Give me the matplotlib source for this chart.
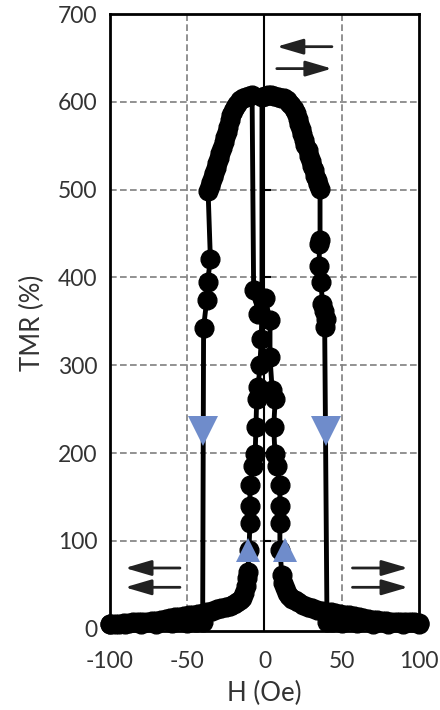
import numpy as np
import matplotlib
matplotlib.use('Agg')
import matplotlib.pyplot as plt
from matplotlib import markers

plt.rcParams['font.family'] = ['Lato', 'DejaVu Sans']

# sweep from -100 Oe to +100 Oe
h_up = [-100, -97, -94, -91, -88, -85, -82, -79, -76, -73, -70, -67, -64, -61,
        -58, -55, -52, -49, -46, -43, -40, -37, -34, -31, -28, -25, -22, -20,
        -18, -16, -14.5, -13, -12, -11.3,
        -10.7, -10, -9.4, -9.4, -9.4, -7.4, -6, -5.5, -5, -4, -3, -2, -1.6,
        -1.6, 0.5, 2.5, 4.5, 6.5, 8.5, 10.5, 12.5, 14.5, 16, 17.5, 19, 20.5,
        21.5, 22.5, 23.5, 24.5, 25.5, 26.5, 28, 29, 30, 31, 32, 33, 34, 35, 36,
        36, 35.5, 35.5, 36.8, 37.4, 38.7, 40, 39,
        40.5, 44, 50, 60, 70, 80, 90, 100]
tmr_up = [5, 5, 5, 6, 6, 7, 7, 8, 8, 9, 9, 10, 11, 12,
          13, 13, 14, 15, 16, 17, 18, 19, 20, 22, 23, 25, 26, 28,
          30, 32, 35, 40, 48, 58,
          64, 90, 120, 140, 163, 185, 199, 230, 262, 275, 300, 330, 377,
          606, 607, 608, 608, 607, 606, 605, 604, 602, 599, 596, 592, 587,
          581, 575, 569, 563, 557, 551, 545, 539, 533, 527, 522, 516, 511, 506, 501,
          443, 438, 413, 395, 370, 362, 353, 344,
          8, 7, 6, 6, 5, 5, 5, 5]

# sweep from +100 Oe to -100 Oe
h_down = [100, 97, 94, 91, 88, 85, 82, 79, 76, 73, 70, 67, 64, 61, 58, 55, 52,
          49, 46, 43, 40, 37, 34, 31, 28, 25, 22, 20, 18, 16, 14.5, 13, 12, 11.3,
          10, 10, 10, 10, 8, 6.8, 6, 7, 5, 3.6, 3.6, 0.3, -4, -7,
          -8, -10, -12, -14, -16, -17.5, -19, -20.5, -21.5, -22.5, -23.5, -24.5,
          -25.5, -26.5, -27.5, -28.5, -29.5, -30.5, -31.5, -32.5, -33.5, -34.5,
          -35.5, -36.5,
          -35, -36.8, -37.4, -39.4,
          -40, -44, -50, -60, -70, -80, -90, -100]
tmr_down = [6, 7, 7, 7, 8, 8, 8, 9, 9, 10, 10, 11, 12, 13, 14, 15, 16,
            17, 18, 19, 19, 20, 21, 23, 25, 27, 30, 32, 34, 37, 41, 46, 52, 61,
            90, 120, 140, 163, 185, 199, 230, 262, 272, 309, 352, 377, 358, 386,
            608, 607, 606, 604, 602, 598, 594, 590, 585, 579, 572, 566,
            560, 554, 548, 542, 536, 530, 525, 519, 514, 509,
            504, 499,
            421, 395, 374, 343,
            8, 7, 6, 6, 5, 5, 5, 5]

# switching markers
tri_down_h = [-40, 40]
tri_down_tmr = [225, 225]
tri_up_h = [-10.5, 13.3]
tri_up_tmr = [89, 89]

xticks = [-100, -50, 0, 50, 100]
yticks = [0, 100, 200, 300, 400, 500, 600, 700]

fig = plt.figure(figsize=(4.4, 7.1), dpi=100)
ax = fig.add_axes([0.25, 0.111, 0.702, 0.869])

ax.set_xlim(-100, 100)
ax.set_ylim(-3, 700)

# grid
for x in [-50, 50]:
    ax.axvline(x, color='#7f7f7f', lw=1.2, ls=(0, (4, 2)), zorder=1)
for y in yticks[1:-1]:
    ax.axhline(y, color='#7f7f7f', lw=1.2, ls=(0, (4, 2)), zorder=1)

# axis through zero with short ticks
ax.axvline(0, color='black', lw=1.5, zorder=2)
ax.plot(np.zeros(len(yticks[1:-1])), yticks[1:-1], ls='none',
        marker=markers.TICKRIGHT, ms=5, mew=1.5, color='black', zorder=2)

for hh, tt in [(h_up, tmr_up), (h_down, tmr_down)]:
    ax.plot(hh, tt, '-o', color='black', lw=3.5, ms=13.5, zorder=3,
            clip_on=False)

ax.plot(tri_down_h, tri_down_tmr, 'v', color='#6f8ccb', ms=22, mew=0, zorder=4)
ax.plot(tri_up_h, tri_up_tmr, '^', color='#6f8ccb', ms=17, mew=0, zorder=4)

# magnetisation arrows
arrow = dict(arrowstyle='-|>,head_length=1.6,head_width=0.47', lw=2,
             color='#222222', shrinkA=0, shrinkB=0, mutation_scale=10)
ax.annotate('', xy=(8, 663), xytext=(43.7, 663), arrowprops=arrow, zorder=5)
ax.annotate('', xy=(43.7, 638), xytext=(8, 638), arrowprops=arrow, zorder=5)
for y in [69, 47]:
    ax.annotate('', xy=(-90.3, y), xytext=(-54.7, y), arrowprops=arrow, zorder=5)
    ax.annotate('', xy=(93, y), xytext=(57, y), arrowprops=arrow, zorder=5)

ax.set_xticks(xticks)
ax.set_xticklabels([str(v) for v in xticks])
ax.set_yticks(yticks)
ax.tick_params(length=0, labelsize=16.5, labelcolor='#333333')
ax.tick_params(axis='x', pad=14)
ax.tick_params(axis='y', pad=9)

for s in ax.spines.values():
    s.set_linewidth(2)
    s.set_color('black')
    s.set_zorder(6)

ax.set_xlabel('H (Oe)', fontsize=18.5, color='#333333', labelpad=7)
ax.set_ylabel('TMR (%)', fontsize=18.5, color='#333333', labelpad=9)

fig.savefig('out.png', dpi=100)
